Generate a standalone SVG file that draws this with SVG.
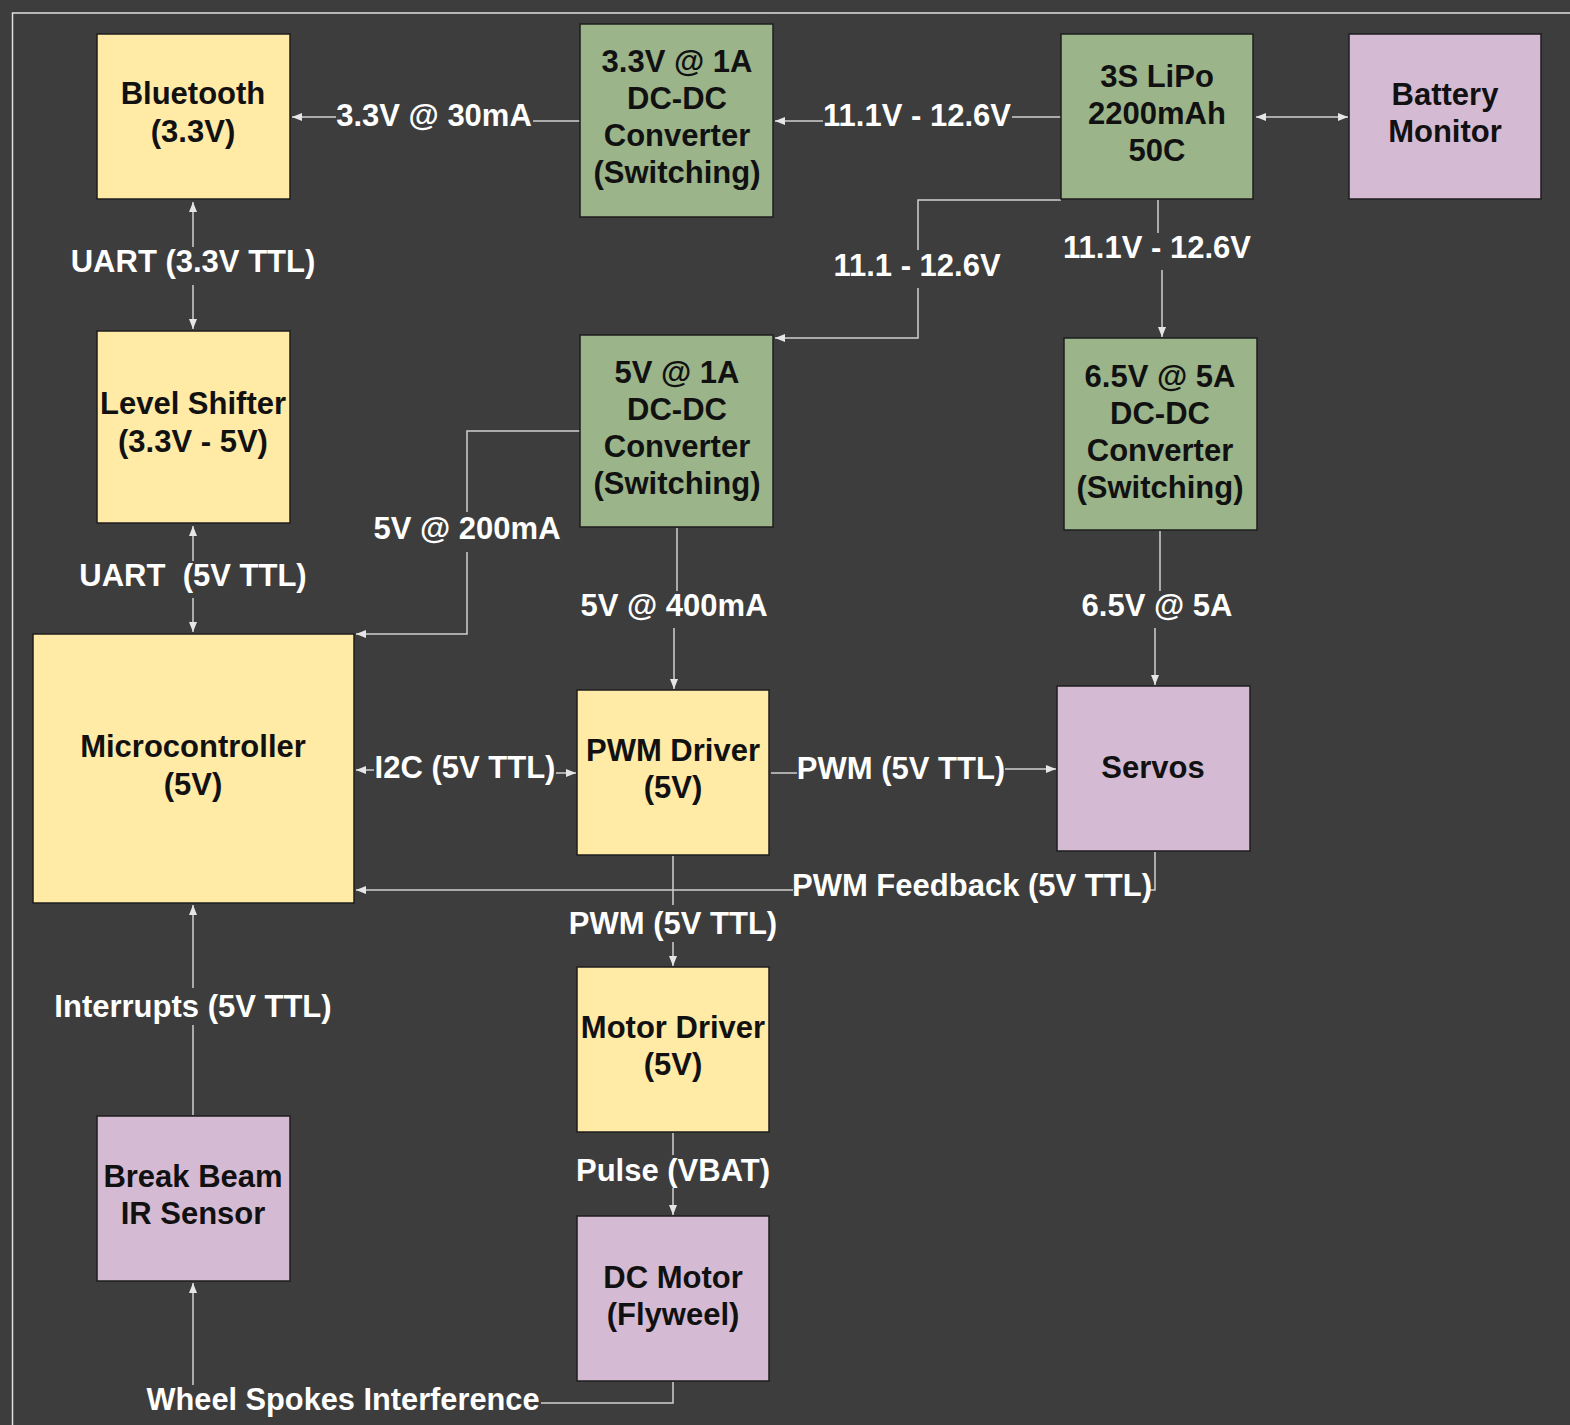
<svg xmlns="http://www.w3.org/2000/svg" width="1570" height="1425" viewBox="0 0 1570 1425">
<defs>
<marker id="ah" viewBox="0 0 10 8" refX="10" refY="4" markerWidth="10" markerHeight="8" markerUnits="userSpaceOnUse" orient="auto-start-reverse">
<path d="M0,0 L10,4 L0,8 z" fill="#e6e6e6"/>
</marker>
<style>
.n{stroke:#1e1e1e;stroke-width:1.5}
.y{fill:#ffeaa6}
.g{fill:#9bb48a}
.p{fill:#d4bbd3}
.t{font-family:"Liberation Sans",Arial,sans-serif;font-weight:bold;font-size:31px;fill:#111;text-anchor:middle}
.l{font-family:"Liberation Sans",Arial,sans-serif;font-weight:bold;font-size:31px;fill:#fff;text-anchor:middle;white-space:pre}
.c{fill:none;stroke:#d0d0d0;stroke-width:1.5}
</style>
</defs>
<rect width="1570" height="1425" fill="#3d3d3d"/>
<rect x="12.5" y="13" width="1600" height="1500" fill="none" stroke="#e0e0e0" stroke-width="1.5"/>

<g id="connectors">
<path class="c" d="M580,121 H533"/><path class="c" d="M336,117 H292" marker-end="url(#ah)"/>
<path class="c" d="M1061,117 H1012"/><path class="c" d="M823,121 H775" marker-end="url(#ah)"/>
<path class="c" d="M1256,117 H1348" marker-start="url(#ah)" marker-end="url(#ah)"/>
<path class="c" d="M1061,200 H918 V250"/><path class="c" d="M918,288 V338 H775" marker-end="url(#ah)"/>
<path class="c" d="M1158,200 V233"/><path class="c" d="M1162,270 V337" marker-end="url(#ah)"/>
<path class="c" d="M193,247 V202" marker-end="url(#ah)"/><path class="c" d="M193,285 V329" marker-end="url(#ah)"/>
<path class="c" d="M193,561 V526" marker-end="url(#ah)"/><path class="c" d="M193,598 V632" marker-end="url(#ah)"/>
<path class="c" d="M580,431 H467 V512"/><path class="c" d="M467,552 V634 H356" marker-end="url(#ah)"/>
<path class="c" d="M677,528 V591"/><path class="c" d="M674,628 V689" marker-end="url(#ah)"/>
<path class="c" d="M1160,531 V591"/><path class="c" d="M1155,628 V685" marker-end="url(#ah)"/>
<path class="c" d="M374,770 H356" marker-end="url(#ah)"/><path class="c" d="M556,773 H576" marker-end="url(#ah)"/>
<path class="c" d="M771,773 H797"/><path class="c" d="M1005,769 H1056" marker-end="url(#ah)"/>
<path class="c" d="M1155,852 V890 H1150"/><path class="c" d="M793,890 H356" marker-end="url(#ah)"/>
<path class="c" d="M673,856 V905"/><path class="c" d="M673,942 V966" marker-end="url(#ah)"/>
<path class="c" d="M673,1133 V1155"/><path class="c" d="M673,1188 V1215" marker-end="url(#ah)"/>
<path class="c" d="M193,1115 V1025"/><path class="c" d="M193,988 V905" marker-end="url(#ah)"/>
<path class="c" d="M673,1382 V1403 H541"/><path class="c" d="M193,1385 V1283" marker-end="url(#ah)"/>
</g>

<g id="labels">
<text class="l" x="434" y="126">3.3V @ 30mA</text>
<text class="l" x="917" y="126">11.1V - 12.6V</text>
<text class="l" x="917" y="276">11.1 - 12.6V</text>
<text class="l" x="1157" y="258">11.1V - 12.6V</text>
<text class="l" x="193" y="272">UART (3.3V TTL)</text>
<text class="l" x="193" y="586">UART  (5V TTL)</text>
<text class="l" x="467" y="539">5V @ 200mA</text>
<text class="l" x="674" y="616">5V @ 400mA</text>
<text class="l" x="1157" y="616">6.5V @ 5A</text>
<text class="l" x="465" y="778">I2C (5V TTL)</text>
<text class="l" x="901" y="779">PWM (5V TTL)</text>
<text class="l" x="972" y="896">PWM Feedback (5V TTL)</text>
<text class="l" x="673" y="934">PWM (5V TTL)</text>
<text class="l" x="193" y="1017">Interrupts (5V TTL)</text>
<text class="l" x="673" y="1181">Pulse (VBAT)</text>
<text class="l" x="343" y="1410" style="font-size:31px" textLength="393" lengthAdjust="spacingAndGlyphs">Wheel Spokes Interference</text>
</g>

<g id="bluetooth"><rect class="n y" x="97" y="34" width="193" height="165"/><text class="t" x="193" y="104">Bluetooth</text><text class="t" x="193" y="142">(3.3V)</text></g>
<g id="dcdc33"><rect class="n g" x="580" y="24" width="193" height="193"/><text class="t" x="677" y="72">3.3V @ 1A</text><text class="t" x="677" y="109">DC-DC</text><text class="t" x="677" y="146">Converter</text><text class="t" x="677" y="183">(Switching)</text></g>
<g id="lipo"><rect class="n g" x="1061" y="34" width="192" height="165"/><text class="t" x="1157" y="87">3S LiPo</text><text class="t" x="1157" y="124">2200mAh</text><text class="t" x="1157" y="161">50C</text></g>
<g id="battmon"><rect class="n p" x="1349" y="34" width="192" height="165"/><text class="t" x="1445" y="105">Battery</text><text class="t" x="1445" y="142">Monitor</text></g>
<g id="levelshifter"><rect class="n y" x="97" y="331" width="193" height="192"/><text class="t" x="193" y="414">Level Shifter</text><text class="t" x="193" y="452">(3.3V - 5V)</text></g>
<g id="dcdc5"><rect class="n g" x="580" y="335" width="193" height="192"/><text class="t" x="677" y="383">5V @ 1A</text><text class="t" x="677" y="420">DC-DC</text><text class="t" x="677" y="457">Converter</text><text class="t" x="677" y="494">(Switching)</text></g>
<g id="dcdc65"><rect class="n g" x="1064" y="338" width="193" height="192"/><text class="t" x="1160" y="387">6.5V @ 5A</text><text class="t" x="1160" y="424">DC-DC</text><text class="t" x="1160" y="461">Converter</text><text class="t" x="1160" y="498">(Switching)</text></g>
<g id="mcu"><rect class="n y" x="33" y="634" width="321" height="269"/><text class="t" x="193" y="757">Microcontroller</text><text class="t" x="193" y="795">(5V)</text></g>
<g id="pwmdriver"><rect class="n y" x="577" y="690" width="192" height="165"/><text class="t" x="673" y="761">PWM Driver</text><text class="t" x="673" y="798">(5V)</text></g>
<g id="servos"><rect class="n p" x="1057" y="686" width="193" height="165"/><text class="t" x="1153" y="778">Servos</text></g>
<g id="motordriver"><rect class="n y" x="577" y="967" width="192" height="165"/><text class="t" x="673" y="1038">Motor Driver</text><text class="t" x="673" y="1075">(5V)</text></g>
<g id="breakbeam"><rect class="n p" x="97" y="1116" width="193" height="165"/><text class="t" x="193" y="1187">Break Beam</text><text class="t" x="193" y="1224">IR Sensor</text></g>
<g id="dcmotor"><rect class="n p" x="577" y="1216" width="192" height="165"/><text class="t" x="673" y="1288">DC Motor</text><text class="t" x="673" y="1325">(Flyweel)</text></g>
</svg>
